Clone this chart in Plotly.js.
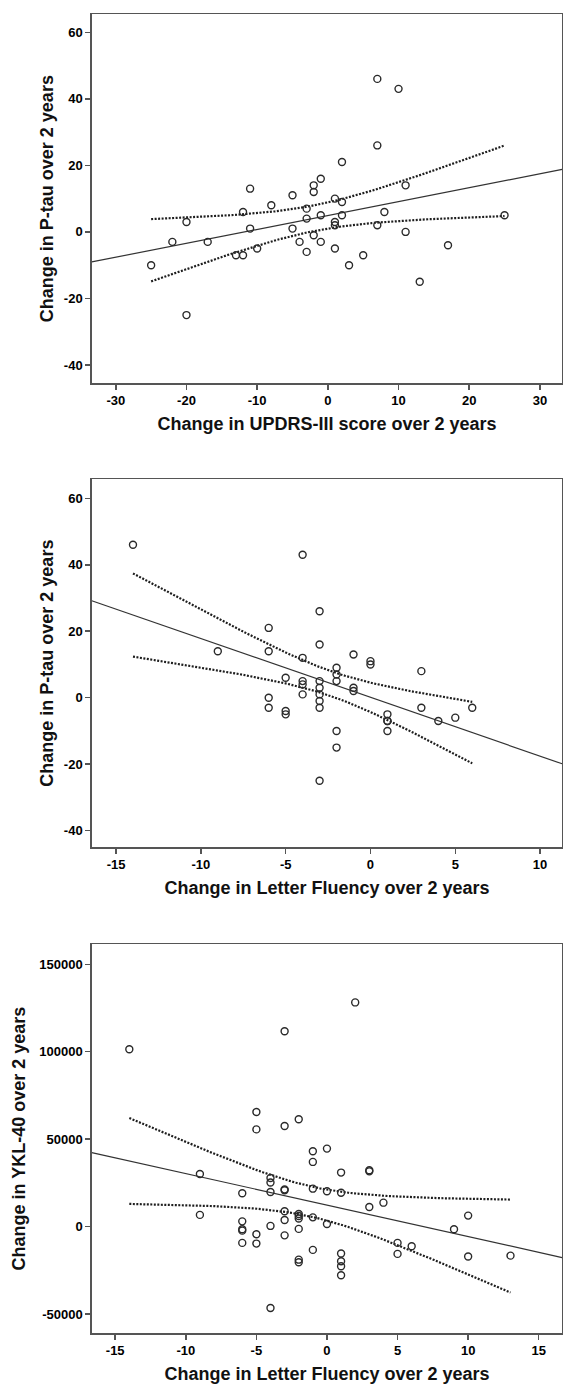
<!DOCTYPE html>
<html>
<head>
<meta charset="utf-8">
<script src="https://cdn.plot.ly/plotly-3.0.1.min.js"></script>
<style>html,body{margin:0;padding:0;background:#fff}#chart{width:563px;height:1385px}</style>
</head>
<body>
<div id="chart"></div>
<script>
// ---------- Panel 1: UPDRS-III change vs P-tau change ----------
const updrsChange = [7, 10, 7, 2, -1, -11, -2, -2, -5, 11, 1, 2, -8, -3, -12, 8, -1, 2, 25, -3, 1, -20, -11, -5, 1, 7, 11, -2, -22, -17, -4, -1, 17, -10, 1, -13, -12, -3, 5, -25, 3, 13, -20];
const ptauChange1 = [46, 43, 26, 21, 16, 13, 14, 12, 11, 14, 10, 9, 8, 7, 6, 6, 5, 5, 5, 4, 3, 3, 1, 1, 2, 2, 0, -1, -3, -3, -3, -3, -4, -5, -5, -7, -7, -6, -7, -10, -10, -15, -25];

// ---------- Panel 2: Letter Fluency change vs P-tau change ----------
const fluencyChange2 = [-14, -4, -3, -6, -3, -9, -6, -4, -1, 0, 0, -2, -2, 3, -5, -2, -4, -4, -3, -3, -1, -1, -3, -4, -6, -3, -6, -3, 3, 6, -5, -5, 1, 1, 1, 4, 5, -2, 1, -2, -3];
const ptauChange2 = [46, 43, 26, 21, 16, 14, 14, 12, 13, 11, 10, 9, 7, 8, 6, 5, 5, 4, 5, 3, 3, 2, 1, 1, 0, -1, -3, -3, -3, -3, -4, -5, -5, -7, -7, -7, -6, -10, -10, -15, -25];

// ---------- Panel 3: Letter Fluency change vs YKL-40 change ----------
const fluencyChange3 = [-14, -3, 2, -5, -5, -3, -2, -1, -1, 0, 1, 3, 3, -9, -4, -4, -3, -3, -1, 0, 1, -6, -4, 3, 4, -3, -2, -2, -2, -1, -9, -3, -6, -6, -6, -4, 0, -2, -5, -3, -6, -5, 9, 10, 5, 6, 5, -1, 1, 1, 1, 1, -2, -2, 10, 13, -4];
const yklChange = [101400, 111700, 128200, 65500, 55600, 57500, 61400, 43100, 37000, 44600, 30900, 31600, 32200, 30100, 27800, 25200, 21300, 20800, 21700, 20200, 19400, 19100, 19800, 11200, 13700, 8800, 7200, 6100, 4600, 5300, 6700, 3800, 3000, -1500, -2300, 400, 1500, -1300, -4400, -5000, -9300, -9700, -1500, 6300, -9300, -11200, -15600, -13300, -15400, -19800, -22700, -27800, -18900, -20400, -17100, -16600, -46500];

// ---------- Tick labels ----------
const xTicks1 = [-30, -20, -10, 0, 10, 20, 30];
const xTickText1 = ['-30', '-20', '-10', '0', '10', '20', '30'];
const xTicks2 = [-15, -10, -5, 0, 5, 10];
const xTickText2 = ['-15', '-10', '-5', '0', '5', '10'];
const xTicks3 = [-15, -10, -5, 0, 5, 10, 15];
const xTickText3 = ['-15', '-10', '-5', '0', '5', '10', '15'];
const yTicksPtau = [-40, -20, 0, 20, 40, 60];
const yTickTextPtau = ['-40', '-20', '0', '20', '40', '60'];
const yTicksYkl = [-50000, 0, 50000, 100000, 150000];
const yTickTextYkl = ['-50000', '0', '50000', '100000', '150000'];

const xTitle1 = 'Change in UPDRS-III score over 2 years';
const xTitle23 = 'Change in Letter Fluency over 2 years';
const yTitlePtau = 'Change in P-tau over 2 years';
const yTitleYkl = 'Change in YKL-40 over 2 years';

// ---------- Regression with 95% CI of the mean (computed from data) ----------
function tCrit(df) {
  const z = 1.959964;
  return z + (Math.pow(z, 3) + z) / (4 * df) + (5 * Math.pow(z, 5) + 16 * Math.pow(z, 3) + 3 * z) / (96 * df * df);
}
function regression(xs, ys) {
  const n = xs.length;
  const mx = xs.reduce((a, b) => a + b, 0) / n;
  const my = ys.reduce((a, b) => a + b, 0) / n;
  let sxx = 0, sxy = 0;
  for (let i = 0; i < n; i++) { sxx += (xs[i] - mx) ** 2; sxy += (xs[i] - mx) * (ys[i] - my); }
  const b = sxy / sxx, a = my - b * mx;
  let sse = 0;
  for (let i = 0; i < n; i++) sse += (ys[i] - a - b * xs[i]) ** 2;
  const s = Math.sqrt(sse / (n - 2));
  const t = tCrit(n - 2);
  return { a, b, mx, sxx, s, t, n, xmin: Math.min(...xs), xmax: Math.max(...xs) };
}
function ciCurves(r) {
  const xs = [], lo = [], hi = [];
  const steps = 80;
  for (let k = 0; k <= steps; k++) {
    const x = r.xmin + (r.xmax - r.xmin) * k / steps;
    const yh = r.a + r.b * x;
    const se = r.s * Math.sqrt(1 / r.n + (x - r.mx) ** 2 / r.sxx);
    xs.push(x); lo.push(yh - r.t * se); hi.push(yh + r.t * se);
  }
  return { xs, lo, hi };
}

const ranges = {
  x1: [-33.4, 33.15], y1: [-45.5, 65.5],
  x2: [-16.43, 11.3], y2: [-45.0, 65.8],
  x3: [-16.66, 16.66], y3: [-61000, 161600]
};

const ptColor = '#2a2a2a';
const traces = [];
function addPanel(xs, ys, xa, ya, xr) {
  const r = regression(xs, ys);
  const c = ciCurves(r);
  traces.push({
    x: xr, y: xr.map(v => r.a + r.b * v), xaxis: xa, yaxis: ya,
    mode: 'lines', line: { color: '#333', width: 1.2 }, hoverinfo: 'skip'
  });
  traces.push({
    x: c.xs, y: c.hi, xaxis: xa, yaxis: ya, mode: 'lines',
    line: { color: '#1e1e1e', width: 2.2, dash: '2px,1.5px' }, hoverinfo: 'skip'
  });
  traces.push({
    x: c.xs, y: c.lo, xaxis: xa, yaxis: ya, mode: 'lines',
    line: { color: '#1e1e1e', width: 2.2, dash: '2px,1.5px' }, hoverinfo: 'skip'
  });
  traces.push({
    x: xs, y: ys, xaxis: xa, yaxis: ya, mode: 'markers',
    marker: { symbol: 'circle-open', size: 7, color: ptColor, line: { width: 1.4, color: ptColor } }
  });
}
addPanel(updrsChange, ptauChange1, 'x', 'y', ranges.x1);
addPanel(fluencyChange2, ptauChange2, 'x2', 'y2', ranges.x2);
addPanel(fluencyChange3, yklChange, 'x3', 'y3', ranges.x3);

const fam = 'Liberation Sans, Arial, Helvetica, sans-serif';
const tickFont = { family: fam, size: 13, color: '#000', weight: 700 };
const titleFont = { family: fam, size: 18, color: '#111', weight: 700 };
function axis(extra) {
  return Object.assign({
    showline: true, mirror: true, linecolor: '#555', linewidth: 1.5,
    ticks: 'outside', ticklen: 5, tickwidth: 1.5, tickcolor: '#555',
    showgrid: false, zeroline: false, tickmode: 'array',
    tickfont: tickFont, automargin: false, fixedrange: true
  }, extra);
}
const xDom = [0.163, 0.9985];
const layout = {
  width: 563, height: 1385,
  margin: { l: 0, r: 0, t: 0, b: 0 },
  paper_bgcolor: '#fff', plot_bgcolor: '#fff',
  showlegend: false,
  xaxis: axis({ domain: xDom, anchor: 'y', range: ranges.x1, tickvals: xTicks1, ticktext: xTickText1,
    title: { text: xTitle1, font: titleFont, standoff: 10 } }),
  yaxis: axis({ domain: [0.72325, 0.98989], anchor: 'x', range: ranges.y1, tickvals: yTicksPtau, ticktext: yTickTextPtau,
    title: { text: yTitlePtau, font: titleFont, standoff: 5 } }),
  xaxis2: axis({ domain: xDom, anchor: 'y2', range: ranges.x2, tickvals: xTicks2, ticktext: xTickText2,
    title: { text: xTitle23, font: titleFont, standoff: 10 } }),
  yaxis2: axis({ domain: [0.38823, 0.65415], anchor: 'x2', range: ranges.y2, tickvals: yTicksPtau, ticktext: yTickTextPtau,
    title: { text: yTitlePtau, font: titleFont, standoff: 5 } }),
  xaxis3: axis({ domain: xDom, anchor: 'y3', range: ranges.x3, tickvals: xTicks3, ticktext: xTickText3,
    title: { text: xTitle23, font: titleFont, standoff: 10 } }),
  yaxis3: axis({ domain: [0.03733, 0.31841], anchor: 'x3', range: ranges.y3, tickvals: yTicksYkl, ticktext: yTickTextYkl,
    title: { text: yTitleYkl, font: titleFont, standoff: 9 } })
};
Plotly.newPlot('chart', traces, layout, { staticPlot: true, displayModeBar: false });
</script>
</body>
</html>
